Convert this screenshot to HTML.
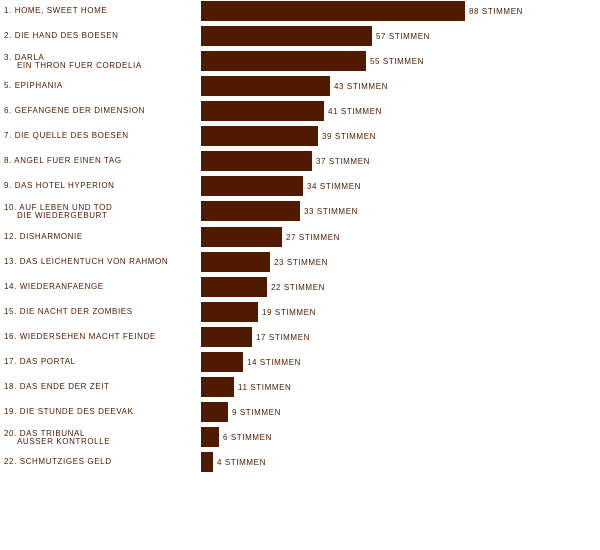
<!DOCTYPE html>
<html><head><meta charset="utf-8"><style>
html,body{margin:0;padding:0;background:#fff;width:600px;height:550px;overflow:hidden}
svg text{font-family:"Liberation Sans",sans-serif;font-size:8px;fill:#4a1a00;letter-spacing:0.6px;text-transform:uppercase}
</style></head><body>
<svg id="chart" width="600" height="550" xmlns="http://www.w3.org/2000/svg"></svg>
<script>
const labels = [
 ["1. Home, sweet Home"],["2. Die Hand des Boesen"],["3. Darla","Ein Thron fuer Cordelia"],
 ["5. Epiphania"],["6. Gefangene der Dimension"],["7. Die Quelle des Boesen"],
 ["8. Angel fuer einen Tag"],["9. Das Hotel Hyperion"],["10. Auf Leben und Tod","Die Wiedergeburt"],
 ["12. Disharmonie"],["13. Das Leichentuch von Rahmon"],["14. Wiederanfaenge"],
 ["15. Die Nacht der Zombies"],["16. Wiedersehen macht Feinde"],["17. Das Portal"],
 ["18. Das Ende der Zeit"],["19. Die Stunde des Deevak"],["20. Das Tribunal","Ausser Kontrolle"],
 ["22. Schmutziges Geld"]
];
const votes = [88,57,55,43,41,39,37,34,33,27,23,22,19,17,14,11,9,6,4];
const suffix = " Stimmen";

const NS = "http://www.w3.org/2000/svg";
const svg = document.getElementById("chart");
const x0 = 201, pxPerVote = 3, barH = 20;
function xScale(v){ return v * pxPerVote; }
function rowTop(i){ return Math.round(1 + i * 25.06); }

votes.forEach((v, i) => {
  const top = rowTop(i);
  const r = document.createElementNS(NS, "rect");
  r.setAttribute("x", x0); r.setAttribute("y", top);
  r.setAttribute("width", xScale(v)); r.setAttribute("height", barH);
  r.setAttribute("fill", "#4f1a00");
  
  
  svg.appendChild(r);

  const vt = document.createElementNS(NS, "text");
  vt.setAttribute("x", x0 + xScale(v) + 4);
  vt.setAttribute("y", top + 13);
  vt.textContent = v + suffix;
  
  
  svg.appendChild(vt);

  const lines = labels[i];
  const lt = document.createElementNS(NS, "text");
  lt.setAttribute("x", 4);
  lt.setAttribute("y", lines.length > 1 ? top + 9 : top + 12);
  
  
  lines.forEach((ln, j) => {
    const ts = document.createElementNS(NS, "tspan");
    if (j > 0) { ts.setAttribute("x", 17); ts.setAttribute("dy", 8); }
    ts.textContent = ln;
    lt.appendChild(ts);
  });
  svg.appendChild(lt);
});
</script>
</body></html>
